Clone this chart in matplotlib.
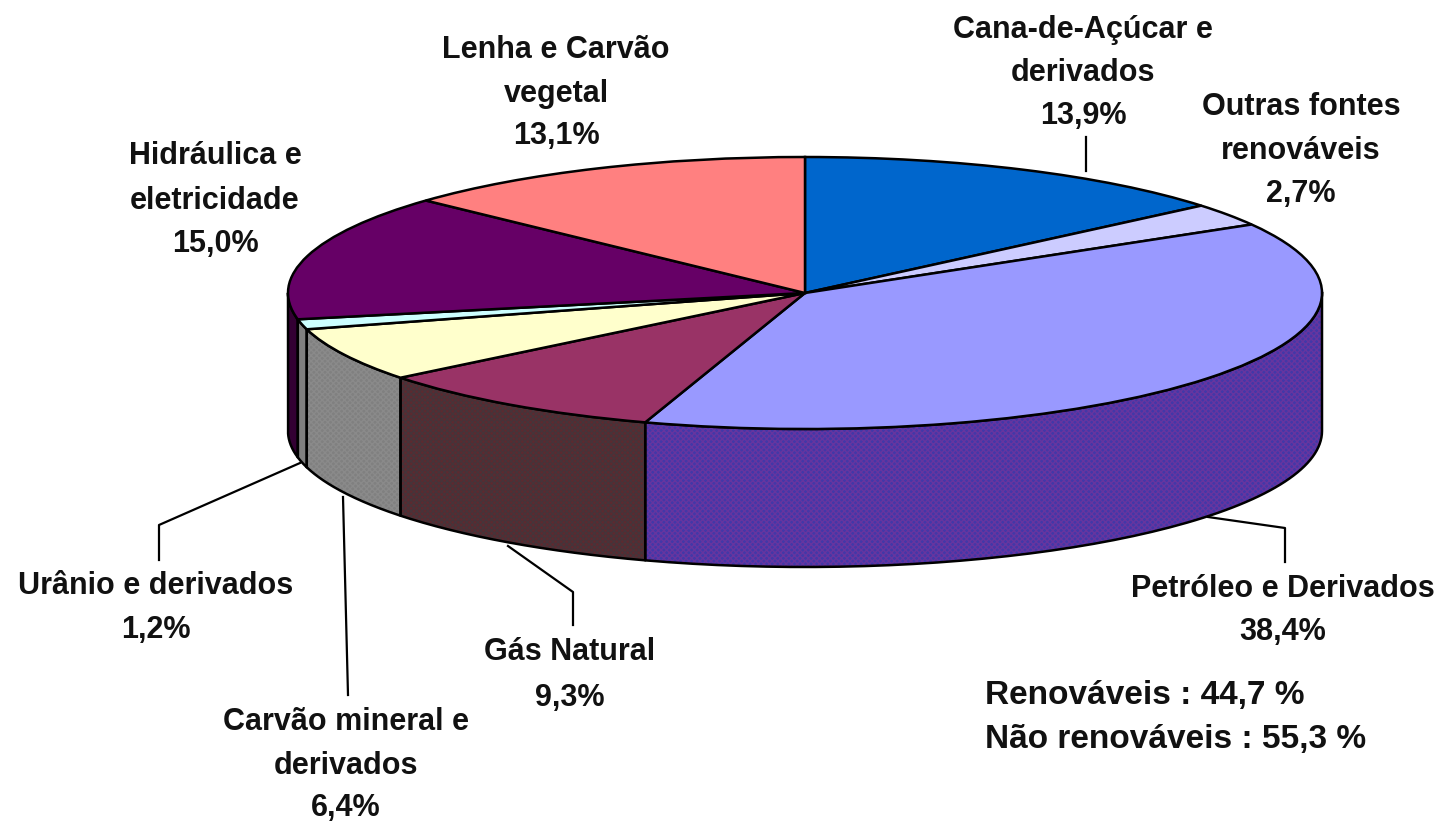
import numpy as np
import matplotlib
matplotlib.use("Agg")
import matplotlib.pyplot as plt

plt.rcParams["font.family"] = ["Liberation Sans", "DejaVu Sans"]
plt.rcParams["hatch.linewidth"] = 1.0

# Matriz energética, sentido horário a partir do topo
fontes = [
    "Cana-de-Açúcar e\nderivados",
    "Outras fontes\nrenováveis",
    "Petróleo e Derivados",
    "Gás Natural",
    "Carvão mineral e\nderivados",
    "Urânio e derivados",
    "Hidráulica e\neletricidade",
    "Lenha e Carvão\nvegetal",
]
valores = [13.9, 2.7, 38.4, 9.3, 6.4, 1.2, 15.0, 13.1]
renovavel = [True, True, False, False, False, False, True, True]
cores_topo = ["#0066CC", "#CCCCFF", "#9999FF", "#993366", "#FFFFCC", "#CCFFFF", "#660066", "#FF8080"]
cores_lado = ["#003366", "#666680", "#4238A8", "#5C2A30", "#808080", "#808080", "#330033", "#804040"]
cores_trama = ["#003366", "#666680", "#66359F", "#46343A", "#8A8A8A", "#808080", "#330033", "#804040"]

# Geometria em pixels da imagem
W, H = 1441, 822
CX, CY, RX, RY = 805, 293, 517, 136
PROF = 138


def px(x):
    return (np.asarray(x, dtype=float) - CX) / RX


def py(y):
    return (CY - np.asarray(y, dtype=float)) / RY


fig = plt.figure(figsize=(W / 100, H / 100), dpi=100)
ax = fig.add_axes([0, 0, 1, 1])

# Parede lateral: só a metade da frente aparece
limites = np.concatenate([[0], np.cumsum(valores)]) / sum(valores) * 360
prof = PROF / RY
for i in range(len(valores)):
    a0, a1 = max(limites[i], 90), min(limites[i + 1], 270)
    if a1 <= a0:
        continue
    t = np.radians(np.linspace(a0, a1, 80))
    xs, ys = np.sin(t), np.cos(t)
    xpoly = np.concatenate([xs, xs[::-1]])
    ypoly = np.concatenate([ys, ys[::-1] - prof])
    ax.fill(xpoly, ypoly, facecolor=cores_lado[i], edgecolor=cores_trama[i], hatch="xxxxxx", lw=0, zorder=1)
    ax.plot(np.append(xpoly, xpoly[0]), np.append(ypoly, ypoly[0]), color="black", lw=1.8, zorder=2)

ax.pie(
    valores,
    colors=cores_topo,
    startangle=90,
    counterclock=False,
    radius=1,
    wedgeprops={"edgecolor": "black", "linewidth": 1.8, "zorder": 3},
)
ax.set_aspect("auto")
ax.set_xlim(px(0), px(W))
ax.set_ylim(py(H), py(0))
ax.axis("off")


def rotulo(i, x, ys, size=22):
    partes = fontes[i].split("\n") + [f"{valores[i]:.1f}%".replace(".", ",")]
    for linha, y in zip(partes, ys):
        ax.text(px(x), py(y), linha, ha="center", va="center", fontsize=size,
                fontweight="bold", color="#111111", zorder=5)


rotulo(0, 1083, [30, 73, 116])
rotulo(1, 1301, [107, 151, 194])
rotulo(2, 1283, [589, 632])
rotulo(3, 570, [652, 698])
rotulo(4, 346, [722, 766, 808])
rotulo(5, 156, [586, 630])
rotulo(6, 215, [156, 201, 244])
rotulo(7, 556, [50, 94, 136])

# Linhas de chamada
chamadas = [
    ([1086, 1086], [137, 171]),
    ([300, 159, 159], [463, 525, 560]),
    ([343, 348], [497, 695]),
    ([508, 573, 573], [546, 592, 625]),
    ([1208, 1285, 1285], [517, 528, 562]),
]
for xs, ys in chamadas:
    ax.plot(px(xs), py(ys), color="black", lw=1.6, zorder=4)

ren = sum(v for v, r in zip(valores, renovavel) if r)
nao = sum(v for v, r in zip(valores, renovavel) if not r)
ax.text(px(985), py(695), f"Renováveis : {ren:.1f} %".replace(".", ","), ha="left", va="center",
        fontsize=24, fontweight="bold", color="#111111", zorder=5)
ax.text(px(985), py(739), f"Não renováveis : {nao:.1f} %".replace(".", ","), ha="left", va="center",
        fontsize=24, fontweight="bold", color="#111111", zorder=5)

fig.savefig("out.png", dpi=100)
